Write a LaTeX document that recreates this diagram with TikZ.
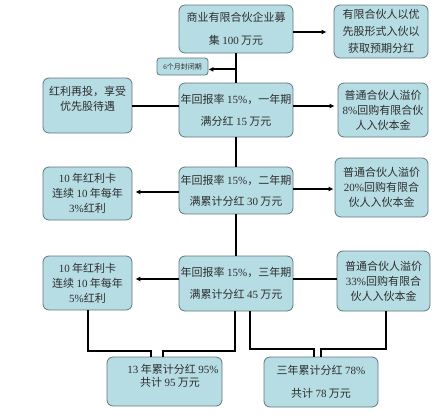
\documentclass[tikz,border=0pt]{standalone}
\usepackage{fontspec}
\setmainfont{Noto Sans CJK SC}
\newfontfamily\latf{Liberation Serif}
\newcommand\nm[1]{{\latf #1}}
\usetikzlibrary{arrows.meta}
\definecolor{boxfill}{RGB}{183,221,228}
\definecolor{boxline}{RGB}{95,118,122}
\definecolor{txt}{RGB}{45,45,45}
\begin{document}
\begin{tikzpicture}[x=1pt,y=-1pt,
 box/.style={draw=boxline, fill=boxfill, rounded corners=6pt, line width=0.8pt, align=center, inner sep=0pt, text=txt, font=\fontsize{11}{15}\selectfont},
 conn/.style={line width=2pt, black},
 arr/.style={conn, -{Latex[length=5pt,width=5pt]}, shorten >=3pt}]
\useasboundingbox (0,0) rectangle (440,418);

\node[box, minimum width=114pt, minimum height=48pt] (top) at (236,29) {商业有限合伙企业募\\[8pt]集 \nm{100} 万元};
\node[box, minimum width=94pt, minimum height=53pt] (r1) at (381,31.5) {有限合伙人以优\\[2pt]先股形式入伙以\\[2pt]获取预期分红};
\node[box, minimum width=51pt, minimum height=17pt, rounded corners=3pt, font=\fontsize{7}{8}\selectfont] (small) at (182.5,66.5) {\nm{6}个月封闭期};

\node[box, minimum width=89pt, minimum height=55pt] (l1) at (87.5,105.5) {红利再投，享受\\优先股待遇\\~};
\node[box, minimum width=114pt, minimum height=54pt] (c2) at (236,110) {年回报率 \nm{15\%}，一年期\\[7pt]满分红 \nm{15} 万元};
\node[box, minimum width=90pt, minimum height=54pt] (r2) at (383,110) {普通合伙人溢价\\\nm{8\%}回购有限合伙\\人入伙本金};

\node[box, minimum width=89pt, minimum height=53pt] (l3) at (87.5,193.5) {\nm{10} 年红利卡\\连续 \nm{10} 年每年\\\nm{3\%}红利};
\node[box, minimum width=114pt, minimum height=47pt] (c3) at (236,190.5) {年回报率 \nm{15\%}，二年期\\[6pt]满累计分红 \nm{30} 万元};
\node[box, minimum width=93pt, minimum height=59pt] (r3) at (381.5,187.5) {普通合伙人溢价\\\nm{20\%}回购有限合\\伙人入伙本金};

\node[box, minimum width=89pt, minimum height=54pt] (l4) at (87.5,283) {\nm{10} 年红利卡\\连续 \nm{10} 年每年\\\nm{5\%}红利};
\node[box, minimum width=114pt, minimum height=55pt] (c4) at (236,283.5) {年回报率 \nm{15\%}，三年期\\[7pt]满累计分红 \nm{45} 万元};
\node[box, minimum width=93pt, minimum height=60pt] (r4) at (383.5,281) {普通合伙人溢价\\\nm{33\%}回购有限合\\伙人入伙本金};

\node[box, minimum width=115pt, minimum height=49pt] (bl) at (164.5,381.5) {\hspace*{17pt}\nm{13} 年累计分红 \nm{95\%}\\[-2pt]\hspace*{11pt}共计 \nm{95} 万元\\[-2pt]~};
\node[box, minimum width=114pt, minimum height=50pt] (br) at (321,382) {三年累计分红 \nm{78\%}\\[8pt]共计 \nm{78} 万元};

% main spine
\draw[conn] (top.south) -- (c2.north);
\draw[conn] (c2.south) -- (c3.north);
\draw[conn] (c3.south) -- (c4.north);
\coordinate (v1) at ([yshift=-16pt]top.south);
\draw[arr, shorten >=0pt] (v1) -- (v1 -| small.east);

% side connections
\draw[arr, shorten >=7pt] ([yshift=-3pt]top.east) -- ([yshift=-3pt]top.east -| r1.west);
\draw[conn] ([yshift=4pt]c2.west) -- ([yshift=4pt]c2.west -| l1.east);
\draw[arr] ([yshift=4pt]c2.east) -- ([yshift=4pt]c2.east -| r2.west);
\draw[arr] ([yshift=-1.5pt]c3.west) -- ([yshift=-1.5pt]c3.west -| l3.east);
\draw[arr, shorten >=1pt] ([yshift=1.5pt]c3.east) -- ([yshift=1.5pt]c3.east -| r3.west);
\draw[arr] ([yshift=4.5pt]c4.west) -- ([yshift=4.5pt]c4.west -| l4.east);
\draw[conn] ([yshift=4.5pt]c4.east) -- ([yshift=4.5pt]c4.east -| r4.west);

% bottom elbows
\draw[conn] (l4.south) -- ++(0,41) -| ([xshift=-13.5pt]bl.north);
\draw[conn] ([xshift=-1pt]c4.south) -- ++(0,40) -| ([xshift=-1.5pt]bl.north);
\draw[conn] ([xshift=14pt]c4.south) -- ++(0,38) -| ([xshift=-7pt]br.north);
\draw[conn] ([xshift=2.5pt]r4.south) -- ++(0,38) -| (br.north);
\end{tikzpicture}
\end{document}
